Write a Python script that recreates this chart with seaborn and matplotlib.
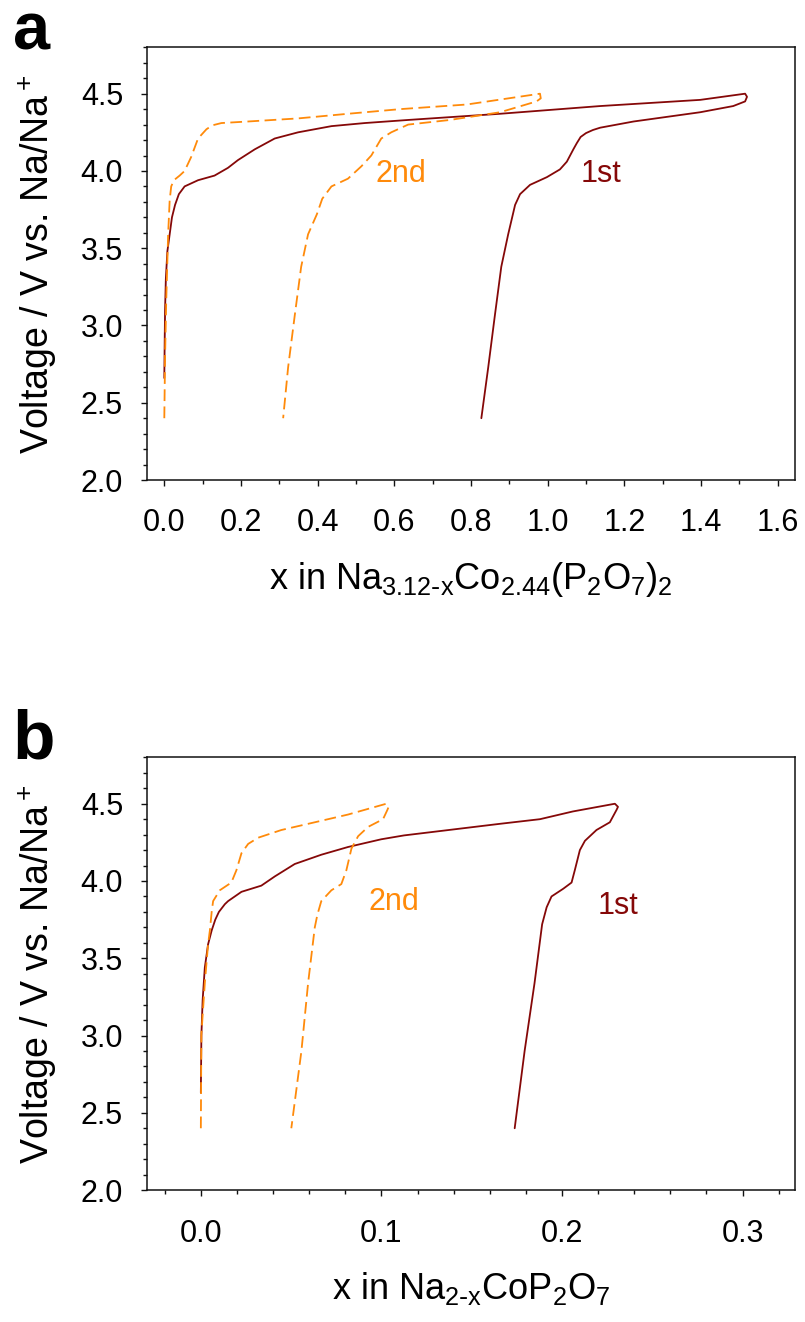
import numpy as np
import pandas as pd
import matplotlib
matplotlib.use("Agg")
import matplotlib.pyplot as plt
import seaborn as sns
from matplotlib.ticker import MultipleLocator

FONT = ["Liberation Sans", "DejaVu Sans"]

# ---- panel a: Na3.12-xCo2.44(P2O7)2, charge then discharge per cycle ----
a_1st_x = [0.000, 0.001, 0.002, 0.004, 0.008, 0.014, 0.020, 0.028, 0.038, 0.053,
           0.088, 0.131, 0.166, 0.192, 0.236, 0.288, 0.349, 0.436, 0.523, 0.636,
           0.876, 1.137, 1.398, 1.515,
           1.520, 1.515, 1.484, 1.398, 1.311, 1.224, 1.137, 1.118, 1.100, 1.086,
           1.076, 1.067, 1.050, 1.032, 0.998, 0.954, 0.928, 0.915, 0.897, 0.879,
           0.862, 0.845, 0.827]
a_1st_v = [2.66, 2.90, 3.10, 3.30, 3.48, 3.59, 3.70, 3.78, 3.85, 3.90,
           3.94, 3.97, 4.02, 4.07, 4.14, 4.21, 4.25, 4.29, 4.31, 4.33,
           4.37, 4.42, 4.46, 4.50,
           4.48, 4.45, 4.42, 4.38, 4.35, 4.32, 4.28, 4.265, 4.245, 4.22,
           4.18, 4.14, 4.06, 4.01, 3.96, 3.91, 3.85, 3.78, 3.59, 3.38,
           3.06, 2.73, 2.40]
a_2nd_x = [0.000, 0.002, 0.005, 0.010, 0.014, 0.018, 0.025, 0.040, 0.053, 0.070,
           0.088, 0.110, 0.125, 0.149, 0.218, 0.349, 0.479, 0.615, 0.789, 0.980,
           0.982, 0.971, 0.876, 0.745, 0.636, 0.592, 0.566, 0.540, 0.514, 0.479,
           0.436, 0.412, 0.398, 0.375, 0.357, 0.340, 0.323, 0.310]
a_2nd_v = [2.40, 2.80, 3.16, 3.59, 3.81, 3.90, 3.94, 3.97, 4.00, 4.09,
           4.21, 4.27, 4.295, 4.31, 4.32, 4.34, 4.37, 4.40, 4.43, 4.50,
           4.47, 4.45, 4.38, 4.33, 4.30, 4.25, 4.21, 4.10, 4.03, 3.95,
           3.90, 3.82, 3.72, 3.59, 3.38, 3.06, 2.73, 2.40]

# ---- panel b: Na2-xCoP2O7 ----
b_1st_x = [0.0000, 0.0003, 0.0010, 0.0022, 0.0040, 0.0060, 0.0080, 0.0100, 0.0133,
           0.0151, 0.0225, 0.0335, 0.0410, 0.0520, 0.0667, 0.0815, 0.0999, 0.1125,
           0.1656, 0.1878, 0.2060, 0.2293,
           0.2310, 0.2302, 0.2265, 0.2191, 0.2127, 0.2099, 0.2071, 0.2053, 0.2007,
           0.1942, 0.1915, 0.1890, 0.1848, 0.1793, 0.1738]
b_1st_v = [2.63, 3.00, 3.23, 3.44, 3.59, 3.68, 3.75, 3.80, 3.85,
           3.87, 3.93, 3.97, 4.03, 4.11, 4.17, 4.22, 4.27, 4.295,
           4.37, 4.40, 4.45, 4.50,
           4.48, 4.46, 4.38, 4.33, 4.26, 4.20, 4.07, 3.99, 3.95,
           3.90, 3.83, 3.72, 3.34, 2.90, 2.40]
b_2nd_x = [0.0000, 0.0003, 0.0022, 0.0040, 0.0050, 0.0060, 0.0068, 0.0105, 0.0169,
           0.0197, 0.0225, 0.0262, 0.0317, 0.0446, 0.0631, 0.0815, 0.1027,
           0.1040, 0.1033, 0.1009, 0.0926, 0.0871, 0.0834, 0.0806, 0.0778, 0.0723,
           0.0667, 0.0645, 0.0631, 0.0594, 0.0557, 0.0501]
b_2nd_v = [2.40, 3.01, 3.34, 3.59, 3.68, 3.80, 3.87, 3.94, 3.99,
           4.07, 4.18, 4.24, 4.28, 4.33, 4.38, 4.43, 4.50,
           4.48, 4.46, 4.40, 4.35, 4.29, 4.21, 4.07, 3.98, 3.94,
           3.87, 3.78, 3.70, 3.34, 2.90, 2.40]

cycles = ["1st", "2nd"]
DARK_RED = "#850808"
ORANGE = "#FF8A0A"
palette = {"1st": DARK_RED, "2nd": ORANGE}
dashes = {"1st": "", "2nd": (6.5, 3.0)}

sns.set_style("ticks")
plt.rcParams["font.family"] = FONT
plt.rcParams["mathtext.default"] = "regular"
plt.rcParams["axes.unicode_minus"] = False
for key in ("text.color", "axes.labelcolor", "xtick.color", "ytick.color",
            "xtick.labelcolor", "ytick.labelcolor"):
    plt.rcParams[key] = "black"


def cycle_frame(xs1, vs1, xs2, vs2):
    parts = []
    for name, xs, vs in zip(cycles, (xs1, xs2), (vs1, vs2)):
        parts.append(pd.DataFrame({"x": xs, "V": vs, "cycle": name,
                                   "step": np.arange(len(xs))}))
    return pd.concat(parts, ignore_index=True)


fig = plt.figure(figsize=(8.05, 13.22), dpi=100)
ax_a = fig.add_axes([0.1822, 0.6369, 0.8053, 0.3273])
ax_b = fig.add_axes([0.1822, 0.0998, 0.8053, 0.3273])

panels = [
    (ax_a, cycle_frame(a_1st_x, a_1st_v, a_2nd_x, a_2nd_v), (-0.046, 1.645), 0.2, 0.1,
     r"x in Na$_{3.12\text{-}x}$Co$_{2.44}$(P$_2$O$_7$)$_2$",
     (0.55, 3.98), (1.085, 3.98)),
    (ax_b, cycle_frame(b_1st_x, b_1st_v, b_2nd_x, b_2nd_v), (-0.03, 0.329), 0.1, 0.02,
     r"x in Na$_{2\text{-}x}$CoP$_2$O$_7$",
     (0.093, 3.865), (0.220, 3.84)),
]

for ax, df, xlim, xmaj, xmin, xlabel, pos2, pos1 in panels:
    sns.lineplot(data=df, x="x", y="V", hue="cycle", style="cycle",
                 palette=palette, dashes=dashes, sort=False, estimator=None,
                 legend=False, linewidth=1.3, ax=ax)
    ax.set_xlim(*xlim)
    ax.set_ylim(2.0, 4.8)
    ax.xaxis.set_major_locator(MultipleLocator(xmaj))
    ax.xaxis.set_minor_locator(MultipleLocator(xmin))
    ax.yaxis.set_major_locator(MultipleLocator(0.5))
    ax.yaxis.set_minor_locator(MultipleLocator(0.1))
    for sp in ax.spines.values():
        sp.set_visible(True)
        sp.set_linewidth(1.1)
        sp.set_color("#111111")
    ax.tick_params(which="both", direction="out", top=False, right=False,
                   color="#111111", labelcolor="black", width=1.0)
    ax.tick_params(which="major", length=4.5, labelsize=22)
    ax.tick_params(which="minor", length=2.8)
    ax.tick_params(axis="x", which="major", pad=16)
    ax.tick_params(axis="y", which="major", pad=12.5)

    ax.set_xlabel(xlabel, fontsize=26, color="black")
    ax.xaxis.set_label_coords(0.5, -0.185)
    ax.set_ylabel(r"Voltage / V vs. Na/Na$^+$", fontsize=27, color="black")
    ax.yaxis.set_label_coords(-0.135, 0.5)

    ax.text(*pos2, "2nd", color=ORANGE, fontsize=22, ha="left", va="center")
    ax.text(*pos1, "1st", color=DARK_RED, fontsize=22, ha="left", va="center")

fig.text(0.016, 1 - 49 / 1322, "a", fontsize=48, fontweight="bold",
         color="black", va="baseline", ha="left")
fig.text(0.016, 1 - 758 / 1322, "b", fontsize=50, fontweight="bold",
         color="black", va="baseline", ha="left")

fig.savefig("out.png", dpi=100, facecolor="white")
